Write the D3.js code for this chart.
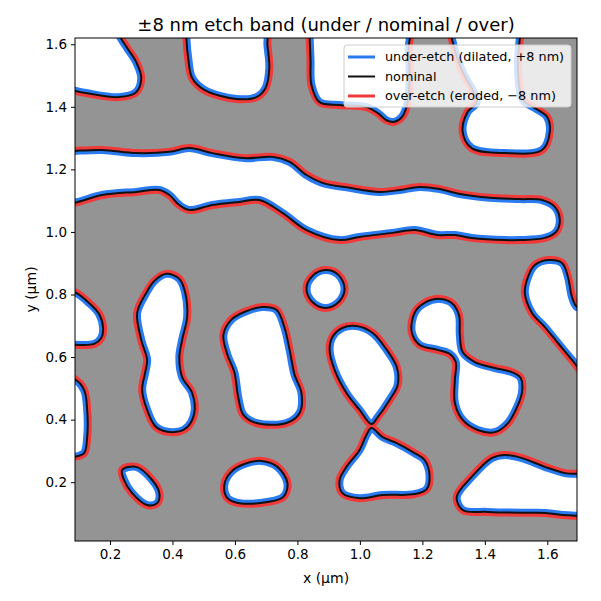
<!DOCTYPE html>
<html>
<head>
<meta charset="utf-8">
<script src="https://cdn.jsdelivr.net/npm/d3@7"></script>
<style>
  body { margin: 0; background: #fff; }
  text { font-family: "DejaVu Sans", sans-serif; fill: #000; }
</style>
</head>
<body>
<div id="chart"></div>
<script>
// axis ranges and ticks (µm)
const xDomain = [0.088, 1.695];
const yDomain = [0.012, 1.62];
const xTicks = [0.2, 0.4, 0.6, 0.8, 1.0, 1.2, 1.4, 1.6];
const yTicks = [0.2, 0.4, 0.6, 0.8, 1.0, 1.2, 1.4, 1.6];
const etchNm = 8;

// nominal contours, [x, y] in µm (points past the frame close shapes cut by the edge)
const blobTopLeft = [[0.037,1.646],[0.037,1.454],[0.069,1.454],[0.123,1.444],[0.229,1.431],[0.284,1.447],[0.300,1.492],[0.284,1.543],[0.255,1.588],[0.229,1.630],[0.213,1.678]];
const blobTopB = [[0.444,1.678],[0.444,1.630],[0.451,1.550],[0.463,1.492],[0.502,1.454],[0.605,1.425],[0.669,1.431],[0.698,1.460],[0.710,1.524],[0.704,1.598],[0.698,1.678]];
const blobTopC = [[0.839,1.678],[0.839,1.630],[0.842,1.550],[0.845,1.470],[0.871,1.415],[0.935,1.406],[1.021,1.399],[1.060,1.378],[1.085,1.357],[1.110,1.352],[1.135,1.368],[1.153,1.415],[1.159,1.502],[1.156,1.582],[1.153,1.678]];
const blobTopD = [[1.329,1.320],[1.358,1.268],[1.464,1.252],[1.583,1.262],[1.608,1.320],[1.599,1.368],[1.560,1.396],[1.522,1.422],[1.506,1.518],[1.512,1.620],[1.519,1.678],[1.288,1.678],[1.294,1.620],[1.326,1.518],[1.374,1.415],[1.345,1.384]];
const band = [[0.037,1.256],[0.085,1.259],[0.175,1.262],[0.284,1.252],[0.390,1.256],[0.454,1.268],[0.528,1.252],[0.630,1.236],[0.720,1.240],[0.775,1.224],[0.829,1.182],[0.880,1.157],[0.967,1.141],[1.063,1.128],[1.127,1.134],[1.191,1.144],[1.256,1.137],[1.320,1.121],[1.416,1.109],[1.512,1.105],[1.583,1.102],[1.624,1.080],[1.640,1.038],[1.628,1.000],[1.592,0.981],[1.512,0.974],[1.464,0.974],[1.358,0.981],[1.304,0.990],[1.249,0.990],[1.175,1.006],[1.105,0.997],[0.999,0.984],[0.935,0.974],[0.829,1.006],[0.752,1.061],[0.678,1.102],[0.614,1.096],[0.528,1.086],[0.454,1.070],[0.422,1.086],[0.390,1.118],[0.358,1.134],[0.284,1.128],[0.175,1.118],[0.085,1.093],[0.037,1.090]];
const blobLeftF = [[0.037,0.808],[0.085,0.808],[0.133,0.773],[0.165,0.738],[0.178,0.693],[0.172,0.661],[0.149,0.642],[0.085,0.639],[0.037,0.639]];
const peanutG = [[0.380,0.866],[0.422,0.850],[0.441,0.805],[0.447,0.728],[0.431,0.655],[0.422,0.600],[0.431,0.536],[0.463,0.485],[0.470,0.421],[0.444,0.373],[0.399,0.360],[0.348,0.376],[0.319,0.431],[0.303,0.495],[0.313,0.552],[0.319,0.591],[0.300,0.655],[0.287,0.741],[0.316,0.805],[0.342,0.843]];
const blobH = [[0.563,0.671],[0.588,0.719],[0.630,0.744],[0.688,0.760],[0.733,0.751],[0.758,0.696],[0.775,0.623],[0.791,0.543],[0.813,0.485],[0.807,0.421],[0.765,0.389],[0.669,0.389],[0.627,0.415],[0.611,0.469],[0.598,0.552],[0.576,0.607]];
const dotI = [[0.890,0.878],[0.932,0.862],[0.951,0.818],[0.932,0.776],[0.890,0.757],[0.848,0.776],[0.829,0.818],[0.848,0.859]];
const blobJ = [[0.903,0.623],[0.912,0.664],[0.944,0.693],[0.989,0.699],[1.041,0.677],[1.086,0.623],[1.118,0.568],[1.121,0.511],[1.095,0.463],[1.057,0.408],[1.037,0.386],[0.999,0.431],[0.957,0.485],[0.919,0.559]];
const blobK = [[1.037,0.373],[1.073,0.344],[1.118,0.325],[1.175,0.293],[1.207,0.271],[1.223,0.223],[1.214,0.178],[1.175,0.162],[1.073,0.159],[0.999,0.149],[0.944,0.165],[0.935,0.207],[0.957,0.249],[0.999,0.303],[1.021,0.351]];
const blobL = [[1.256,0.786],[1.294,0.773],[1.317,0.735],[1.320,0.671],[1.329,0.616],[1.368,0.584],[1.432,0.565],[1.486,0.552],[1.515,0.533],[1.519,0.488],[1.503,0.440],[1.474,0.389],[1.432,0.360],[1.377,0.367],[1.329,0.399],[1.304,0.453],[1.304,0.527],[1.307,0.584],[1.288,0.610],[1.249,0.623],[1.191,0.639],[1.166,0.680],[1.175,0.741],[1.207,0.773]];
const blobM = [[1.310,0.153],[1.358,0.217],[1.422,0.277],[1.464,0.287],[1.519,0.277],[1.592,0.249],[1.656,0.229],[1.737,0.217],[1.737,0.105],[1.570,0.102],[1.409,0.105],[1.329,0.111]];
const blobN = [[1.602,0.910],[1.647,0.901],[1.666,0.856],[1.679,0.792],[1.695,0.760],[1.737,0.751],[1.737,0.527],[1.679,0.591],[1.634,0.645],[1.592,0.696],[1.551,0.741],[1.528,0.805],[1.538,0.856],[1.560,0.894]];
const blobLeftO = [[0.037,0.533],[0.085,0.530],[0.117,0.495],[0.127,0.431],[0.127,0.344],[0.117,0.293],[0.085,0.281],[0.037,0.281]];
const ellipseP = [[0.239,0.239],[0.284,0.249],[0.335,0.207],[0.358,0.165],[0.351,0.133],[0.319,0.127],[0.271,0.165],[0.245,0.207]];
const blobQ = [[0.566,0.191],[0.588,0.233],[0.630,0.258],[0.685,0.268],[0.736,0.249],[0.768,0.197],[0.755,0.153],[0.704,0.137],[0.614,0.133],[0.576,0.149]];

const shapes = [blobTopLeft, blobTopB, blobTopC, blobTopD, band, blobLeftF, peanutG, blobH, dotI,
  blobJ, blobK, blobL, blobM, blobN, blobLeftO, ellipseP, blobQ];

const legendItems = [
  { label: 'under-etch (dilated, +8 nm)', color: '#2a7af0' },
  { label: 'nominal', color: '#111111' },
  { label: 'over-etch (eroded, \u22128 nm)', color: '#f03a3a' }
];

const width = 601, height = 601;
const plot = { left: 75, right: 577, top: 38, bottom: 541 };

const x = d3.scaleLinear().domain(xDomain).range([plot.left, plot.right]);
const y = d3.scaleLinear().domain(yDomain).range([plot.bottom, plot.top]);

const svg = d3.select('#chart').append('svg')
  .attr('width', width)
  .attr('height', height);

const defs = svg.append('defs');
const line = d3.line()
  .x(d => x(d[0]))
  .y(d => y(d[1]))
  .curve(d3.curveCatmullRomClosed.alpha(0.5));

defs.append('clipPath').attr('id', 'plot-clip')
  .append('rect')
  .attr('x', plot.left).attr('y', plot.top)
  .attr('width', plot.right - plot.left).attr('height', plot.bottom - plot.top);

defs.append('clipPath').attr('id', 'inside')
  .selectAll('path').data(shapes).enter().append('path')
  .attr('d', line);

const outside = defs.append('mask').attr('id', 'outside')
  .attr('maskUnits', 'userSpaceOnUse')
  .attr('x', 0).attr('y', 0).attr('width', width).attr('height', height);
outside.append('rect').attr('width', width).attr('height', height).attr('fill', '#fff');
outside.selectAll('path').data(shapes).enter().append('path')
  .attr('d', line).attr('fill', '#000');

// offset in px for ±8 nm
const offPx = x(xDomain[0] + etchNm / 1000) - x(xDomain[0]);
const lw = 3;

const g = svg.append('g').attr('clip-path', 'url(#plot-clip)');

g.append('rect')
  .attr('x', plot.left).attr('y', plot.top)
  .attr('width', plot.right - plot.left).attr('height', plot.bottom - plot.top)
  .attr('fill', '#949494');

g.append('g').selectAll('path').data(shapes).enter().append('path')
  .attr('d', line).attr('fill', '#fff');

g.append('g').attr('clip-path', 'url(#inside)')
  .selectAll('path').data(shapes).enter().append('path')
  .attr('d', line).attr('fill', 'none')
  .attr('stroke', legendItems[0].color)
  .attr('stroke-width', 2 * (offPx + lw / 2));

g.append('g').attr('mask', 'url(#outside)')
  .selectAll('path').data(shapes).enter().append('path')
  .attr('d', line).attr('fill', 'none')
  .attr('stroke', legendItems[2].color)
  .attr('stroke-width', 2 * (offPx + lw / 2));

g.append('g').selectAll('path').data(shapes).enter().append('path')
  .attr('d', line).attr('fill', 'none')
  .attr('stroke', legendItems[1].color)
  .attr('stroke-width', 2);

// axes
const fmt = d3.format('.1f');
const xAxis = svg.append('g')
  .attr('transform', `translate(0, ${plot.bottom})`)
  .call(d3.axisBottom(x).tickValues(xTicks).tickFormat(fmt).tickSize(4).tickPadding(4));
const yAxis = svg.append('g')
  .attr('transform', `translate(${plot.left}, 0)`)
  .call(d3.axisLeft(y).tickValues(yTicks).tickFormat(fmt).tickSize(4).tickPadding(4));
[xAxis, yAxis].forEach(a => {
  a.select('.domain').remove();
  a.selectAll('text').style('font-size', '13.5px').style('font-family', '"DejaVu Sans", sans-serif').attr('fill', '#000');
  a.selectAll('line').attr('stroke', '#000');
});

svg.append('rect')
  .attr('x', plot.left).attr('y', plot.top)
  .attr('width', plot.right - plot.left).attr('height', plot.bottom - plot.top)
  .attr('fill', 'none').attr('stroke', '#000').attr('stroke-width', 1);

svg.append('text')
  .attr('x', (plot.left + plot.right) / 2).attr('y', 31)
  .attr('text-anchor', 'middle')
  .style('font-size', '18px')
  .text('\u00b18 nm etch band (under / nominal / over)');

svg.append('text')
  .attr('x', (plot.left + plot.right) / 2).attr('y', 583)
  .attr('text-anchor', 'middle')
  .style('font-size', '14px')
  .text('x (\u00b5m)');

svg.append('text')
  .attr('transform', `translate(36, ${(plot.top + plot.bottom) / 2}) rotate(-90)`)
  .attr('text-anchor', 'middle')
  .style('font-size', '14px')
  .text('y (\u00b5m)');

// legend
const legend = svg.append('g').attr('transform', 'translate(344, 45)');
legend.append('rect')
  .attr('width', 227).attr('height', 62).attr('rx', 3)
  .attr('fill', '#fff').attr('fill-opacity', 0.8)
  .attr('stroke', '#cccccc');
const rows = legend.selectAll('g.row').data(legendItems).enter().append('g')
  .attr('class', 'row')
  .attr('transform', (d, i) => `translate(0, ${12 + i * 19.5})`);
rows.append('line')
  .attr('x1', 4).attr('x2', 31)
  .attr('stroke', d => d.color)
  .attr('stroke-width', d => d.label === 'nominal' ? 2 : 3);
rows.append('text')
  .attr('x', 41).attr('dy', '0.35em')
  .style('font-size', '12.8px')
  .text(d => d.label);
</script>
</body>
</html>
